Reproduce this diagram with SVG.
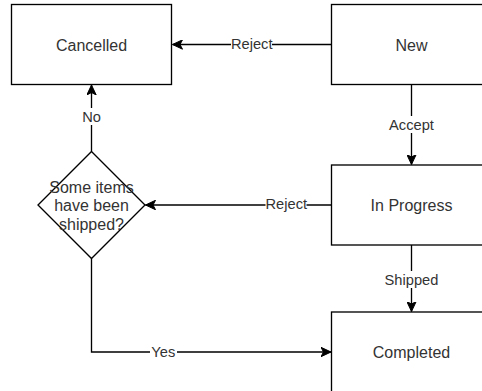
<svg xmlns="http://www.w3.org/2000/svg" width="482" height="391" viewBox="0 0 482 391">
<style>
.node{fill:#ffffff;stroke:#000000;stroke-width:1.33}
.nt{font-family:"Liberation Sans",Arial,sans-serif;font-size:16px;fill:#333333;text-anchor:middle}
.edge{fill:none;stroke:#000000;stroke-width:1.33}
.lbg{fill:#ffffff}
.lt{font-family:"Liberation Sans",Arial,sans-serif;font-size:14.67px;fill:#333333;text-anchor:middle}
</style>
<defs>
<marker id="arr" viewBox="-10 -5 11 10" refX="0" refY="0" markerWidth="11" markerHeight="10" markerUnits="userSpaceOnUse" orient="auto">
<path d="M0,0 L-10,-4.7 L-7.5,0 L-10,4.7 Z" fill="#000000" stroke="#000000" stroke-width="1"/>
</marker>
</defs>
<rect width="482" height="391" fill="#ffffff"/>
<g id="connectors">
<g id="e-new-cancelled">
<path class="edge" d="M331.5,44.5 L172.5,44.5" marker-end="url(#arr)"/>
<rect class="lbg" x="231" y="36" width="41" height="17"/>
<text class="lt" x="251.7" y="49.3">Reject</text>
</g>
<g id="e-new-inprogress">
<path class="edge" d="M411.5,84.5 L411.5,164.5" marker-end="url(#arr)"/>
<rect class="lbg" x="389" y="116" width="45" height="17"/>
<text class="lt" x="411.5" y="130">Accept</text>
</g>
<g id="e-inprogress-decision">
<path class="edge" d="M331.5,205 L145.5,205" marker-end="url(#arr)"/>
<rect class="lbg" x="265.5" y="195" width="41" height="17"/>
<text class="lt" x="286.3" y="208.7">Reject</text>
</g>
<g id="e-decision-cancelled">
<path class="edge" d="M91.5,151.5 L91.5,85" marker-end="url(#arr)"/>
<rect class="lbg" x="81" y="108" width="21" height="17"/>
<text class="lt" x="91.5" y="121.5">No</text>
</g>
<g id="e-inprogress-completed">
<path class="edge" d="M411.5,245 L411.5,311.5" marker-end="url(#arr)"/>
<rect class="lbg" x="385" y="271" width="53" height="17"/>
<text class="lt" x="411.5" y="285">Shipped</text>
</g>
<g id="e-decision-completed">
<path class="edge" d="M91.5,258.5 L91.5,352 L331,352" marker-end="url(#arr)"/>
<rect class="lbg" x="150" y="343" width="27" height="17"/>
<text class="lt" x="163.3" y="356.7">Yes</text>
</g>
</g>
<g id="cancelled">
<rect class="node" x="11.5" y="4.5" width="160" height="80"/>
<text class="nt" x="91.5" y="50.5">Cancelled</text>
</g>
<g id="new">
<rect class="node" x="331.5" y="4.5" width="160" height="80"/>
<text class="nt" x="411.5" y="50.5">New</text>
</g>
<g id="inprogress">
<rect class="node" x="331.5" y="165" width="160" height="80"/>
<text class="nt" x="411.5" y="210.5">In Progress</text>
</g>
<g id="completed">
<rect class="node" x="331.5" y="312" width="160" height="80"/>
<text class="nt" x="411.5" y="358">Completed</text>
</g>
<g id="decision">
<polygon class="node" points="91.5,151.5 145,205 91.5,258.5 38,205"/>
<text class="nt" x="91.5" y="192.5">Some items</text>
<text class="nt" x="91.5" y="211">have been</text>
<text class="nt" x="91.5" y="229.5">shipped?</text>
</g>
</svg>
